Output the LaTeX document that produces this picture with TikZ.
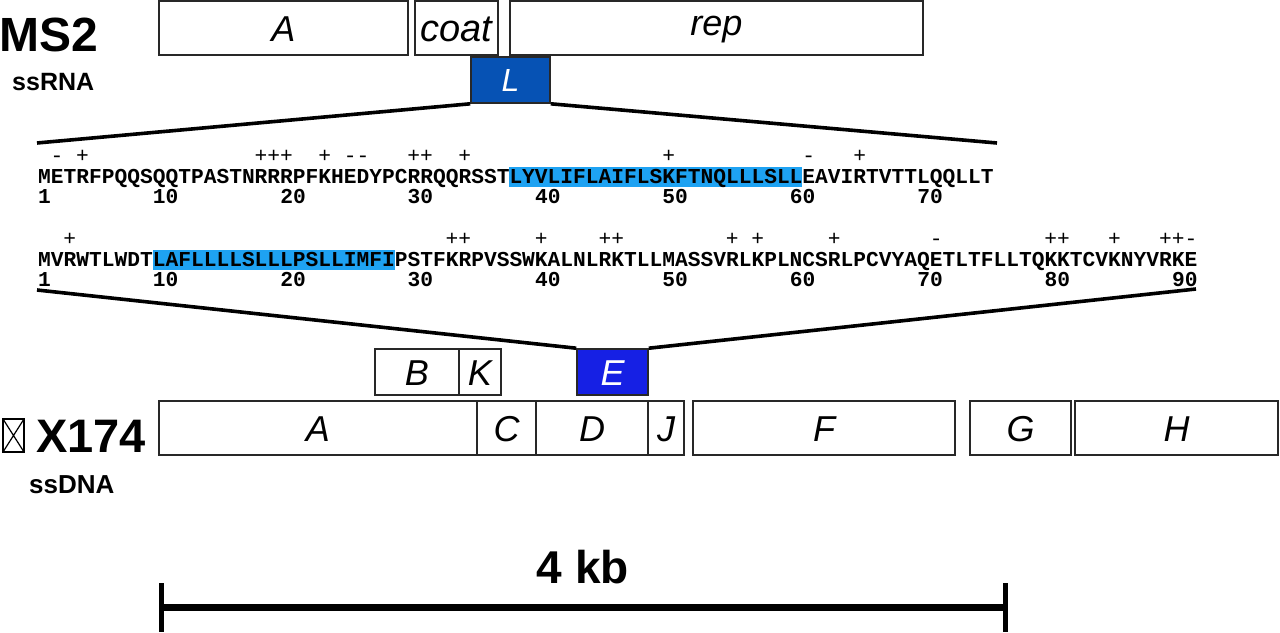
\documentclass[tikz,border=0pt]{standalone}
\usepackage{fontspec}
\setmainfont{Liberation Sans}
\newfontfamily\seqfont{Liberation Mono}
\definecolor{Lblue}{RGB}{6,82,180}
\definecolor{Eblue}{RGB}{22,32,228}
\definecolor{hl}{RGB}{30,162,242}
\definecolor{boxline}{RGB}{40,40,40}
\newcommand{\cw}{12.74}
\begin{document}
\begin{tikzpicture}[x=1pt,y=-1pt,
  gene/.style={draw=boxline, line width=1.6pt, fill=white, inner sep=0pt,
    minimum height=54pt, text height=26pt, text depth=0pt,
    font=\fontsize{36pt}{38pt}\selectfont\itshape},
  genesm/.style={gene, minimum height=46pt},
  genefill/.style={genesm, fill=#1, text=white},
  zoomline/.style={line width=3.6pt, black},
  seqtext/.style={inner sep=0pt, anchor=base west, font=\seqfont\bfseries\fontsize{21.23pt}{24pt}\selectfont},
  chg/.style={inner sep=0pt, anchor=base, font=\seqfont\fontsize{21.23pt}{24pt}\selectfont},
  numlab/.style={inner sep=0pt, anchor=base west, font=\seqfont\bfseries\fontsize{21.23pt}{24pt}\selectfont},
  title/.style={inner sep=0pt, anchor=base west, font=\bfseries\fontsize{48pt}{50pt}\selectfont},
  sub/.style={inner sep=0pt, anchor=base west, font=\bfseries\fontsize{25pt}{27pt}\selectfont}
]
\useasboundingbox (0,0) rectangle (1280,632);

% ---------- MS2 ----------
\node[title] (ms2) at (-1,51) {MS2};
\node[sub] (ssrna) at (12,90) {ssRNA};
\node[gene, minimum width=249pt] (mA) at (283.5,28) {A};
\node[gene, minimum width=83pt, font=\fontsize{38pt}{40pt}\selectfont\itshape] (mcoat) at (456.5,28) {coat};
\node[gene, minimum width=413pt, text height=21pt, text depth=6pt] (mrep) at (716.5,28) {rep};
\node[genefill=Lblue, minimum width=79pt, text height=23pt, font=\fontsize{32pt}{34pt}\selectfont\itshape] (L) at (510.5,80) {L};

\coordinate (s1l) at (37,143);
\coordinate (s1r) at (997,143);
\draw[zoomline] (L.south west) -- (s1l);
\draw[zoomline] (L.south east) -- (s1r);

% ---------- L sequence ----------
\fill[hl] ({38+37*\cw},167) rectangle ({38+60*\cw},187);
\node[seqtext] (seq1) at (38,183) {METRFPQQSQQTPASTNRRRPFKHEDYPCRRQQRSSTLYVLIFLAIFLSKFTNQLLLSLLEAVIRTVTTLQQLLT};
\foreach \p/\c [count=\i] in {2/-,4/+,18/+,19/+,20/+,23/+,25/-,26/-,30/+,31/+,34/+,50/+,61/-,65/+}
  \node[chg] (ca\i) at ({38+(\p-0.5)*\cw},162) {\c};
\foreach \n in {1,10,20,30,40,50,60,70}
  \node[numlab] (na\n) at ({38+(\n-1)*\cw},203) {\n};

% ---------- E sequence ----------
\fill[hl] ({38+9*\cw},250) rectangle ({38+28*\cw},270);
\node[seqtext] (seq2) at (38,266) {MVRWTLWDTLAFLLLLSLLLPSLLIMFIPSTFKRPVSSWKALNLRKTLLMASSVRLKPLNCSRLPCVYAQETLTFLLTQKKTCVKNYVRKE};
\foreach \p/\c [count=\i] in {3/+,33/+,34/+,40/+,45/+,46/+,55/+,57/+,63/+,71/-,80/+,81/+,85/+,89/+,90/+,91/-}
  \node[chg] (cb\i) at ({38+(\p-0.5)*\cw},245) {\c};
\foreach \n in {1,10,20,30,40,50,60,70,80,90}
  \node[numlab] (nb\n) at ({38+(\n-1)*\cw},286) {\n};

\coordinate (s2l) at (37,290);
\coordinate (s2r) at (1196,289);

% ---------- phiX174 ----------
\node[genesm, minimum width=84pt] (B) at (417,372) {B};
\node[genesm, minimum width=42pt] (K) at (480,372) {K};
\node[genefill=Eblue, minimum width=71pt] (E) at (612.5,372) {E};
\draw[zoomline] (s2l) -- (E.north west);
\draw[zoomline] (s2r) -- (E.north east);

\node[gene, minimum width=318pt] (xA) at (318,428) {A};
\node[gene, minimum width=59pt] (xC) at (506.5,428) {C};
\node[gene, minimum width=112pt] (xD) at (592,428) {D};
\node[gene, minimum width=36pt] (xJ) at (666,428) {J};
\node[gene, minimum width=262pt] (xF) at (824,428) {F};
\node[gene, minimum width=101pt] (xG) at (1020.5,428) {G};
\node[gene, minimum width=203pt] (xH) at (1176.5,428) {H};

% missing-glyph box before X174
\draw[line width=1.4pt] (3,419) rectangle (24,452);
\draw[line width=1.2pt] (3,419) -- (24,452) (24,419) -- (3,452);
\node[title, font=\bfseries\fontsize{47pt}{49pt}\selectfont] (x174) at (36,452) {X174};
\node[sub, font=\bfseries\fontsize{26pt}{28pt}\selectfont] (ssdna) at (29,493) {ssDNA};

% ---------- scale bar ----------
\node[inner sep=0pt, anchor=base, font=\bfseries\fontsize{46pt}{48pt}\selectfont] (kb) at (583,583) {4 kb};
\coordinate (bl) at (161,607);
\coordinate (br) at (1005,607);
\coordinate (blt) at (161,583);
\coordinate (blb) at (161,632);
\coordinate (brt) at (1005,583);
\coordinate (brb) at (1005,632);
\draw[line width=7pt] (bl) -- (br);
\draw[line width=5pt] (blt) -- (blb);
\draw[line width=5pt] (brt) -- (brb);
\end{tikzpicture}
\end{document}
